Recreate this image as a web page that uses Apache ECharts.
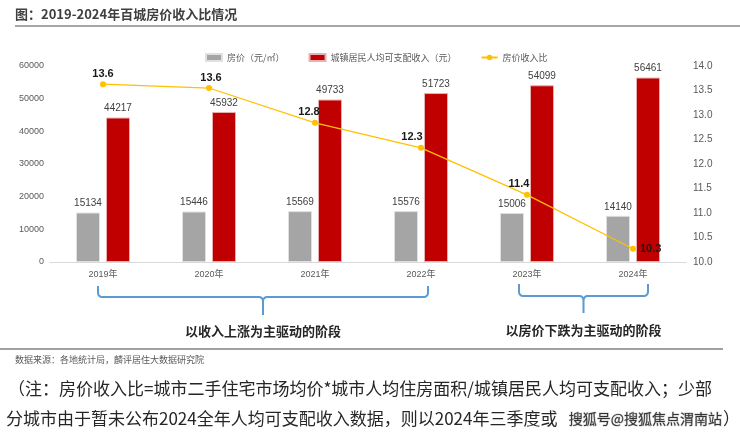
<!DOCTYPE html>
<html>
<head>
<meta charset="utf-8">
<style>
  html, body { margin: 0; padding: 0; background: #fff; }
  #main { width: 740px; height: 438px; }
</style>
<script src="https://cdn.jsdelivr.net/npm/echarts@6/dist/echarts.min.js"></script>
</head>
<body>
<div id="main"></div>
<script>
// data
var years = ['2019年', '2020年', '2021年', '2022年', '2023年', '2024年'];
var housePrice = [15134, 15446, 15569, 15576, 15006, 14140];
var income = [44217, 45932, 49733, 51723, 54099, 56461];
var ratio = [13.63, 13.55, 12.84, 12.33, 11.37, 10.27];
var leftTicks = [0, 60000, 10000];   // min, max, interval
var rightTicks = [10, 14, 0.5];

// label placement for the ratio line, one per point
var ratioLabelPos = ['top', 'top', 'top', 'top', 'top', 'right'];
var ratioLabelOffset = [[0, 0], [2, 0], [-6, 0], [-9, 0], [-8, 0], [2, 0]];

var cjk = '"Noto Sans CJK SC", sans-serif';
var latin = '"Liberation Sans", Arial, "Noto Sans CJK SC", sans-serif';

var myChart = echarts.init(document.getElementById('main'));

var option = {
    backgroundColor: '#fff',
    animation: false,
    textStyle: {fontFamily: latin},
    legend: {
        top: 48,
        left: 200,
        itemWidth: 16,
        itemHeight: 7,
        itemGap: 24,
        textStyle: {fontSize: 9, color: '#595959', fontFamily: cjk},
        data: [
            {name: '房价（元/㎡）', icon: 'rect'},
            {name: '城镇居民人均可支配收入（元）', icon: 'rect'},
            {name: '房价收入比'}
        ]
    },
    grid: {left: 50, right: 54, top: 66, bottom: 176},
    xAxis: {
        type: 'category',
        data: years,
        axisLine: {lineStyle: {color: '#D9D9D9', width: 1}},
        axisTick: {show: false},
        axisLabel: {fontSize: 9, color: '#595959', margin: 8, fontFamily: latin}
    },
    yAxis: [
        {
            type: 'value',
            min: leftTicks[0], max: leftTicks[1], interval: leftTicks[2],
            splitLine: {show: false},
            axisLine: {show: false},
            axisTick: {show: false},
            axisLabel: {fontSize: 9, color: '#595959', margin: 6,
                formatter: function (v) { return String(v); }}
        },
        {
            type: 'value',
            min: rightTicks[0], max: rightTicks[1], interval: rightTicks[2],
            splitLine: {show: false},
            axisLine: {show: false},
            axisTick: {show: false},
            axisLabel: {
                fontSize: 10, color: '#595959', margin: 7,
                formatter: function (v) { return v.toFixed(1); }
            }
        }
    ],
    series: [
        {
            name: '房价（元/㎡）',
            type: 'bar',
            barWidth: 24,
            barGap: '25%',
            data: housePrice,
            itemStyle: {color: '#A5A5A5', borderColor: '#E0E0E0', borderWidth: 1},
            label: {show: true, position: 'top', distance: 4, fontSize: 10, color: '#404040'}
        },
        {
            name: '城镇居民人均可支配收入（元）',
            type: 'bar',
            barWidth: 24,
            data: income,
            itemStyle: {color: '#C00000', borderColor: '#E8B0B0', borderWidth: 1},
            label: {show: true, position: 'top', distance: 4, fontSize: 10, color: '#404040'}
        },
        {
            name: '房价收入比',
            type: 'line',
            yAxisIndex: 1,
            symbol: 'circle',
            symbolSize: 6,
            z: 5,
            lineStyle: {color: '#FFC000', width: 1.2},
            itemStyle: {color: '#FFC000'},
            data: ratio.map(function (v, i) {
                return {
                    value: v,
                    label: {position: ratioLabelPos[i], offset: ratioLabelOffset[i]}
                };
            }),
            label: {
                show: true, fontSize: 11, fontWeight: 'bold', color: '#1a1a1a', distance: 2,
                formatter: function (p) { return p.value.toFixed(1); }
            }
        }
    ]
};

myChart.setOption(option);

// brackets below the axis, placed from the category positions
function catX(i) {
    return myChart.convertToPixel({xAxisIndex: 0}, years[i]);
}

// quarter arc points from angle a0 to a1 around (cx, cy)
function arc(cx, cy, r, a0, a1) {
    var pts = [];
    for (var k = 0; k <= 4; k++) {
        var a = a0 + (a1 - a0) * k / 4;
        pts.push([cx + r * Math.cos(a), cy + r * Math.sin(a)]);
    }
    return pts;
}

function bracketParts(x1, x2, yTop, yMid, yBot) {
    var r = 4;
    var cx = (x1 + x2) / 2;
    var P = Math.PI;
    var left = [[x1, yTop]]
        .concat(arc(x1 + r, yMid - r, r, P, P / 2))
        .concat(arc(cx - r, yMid + r, r, -P / 2, 0))
        .concat([[cx, yBot]]);
    var right = [[x2, yTop]]
        .concat(arc(x2 - r, yMid - r, r, 0, P / 2))
        .concat(arc(cx + r, yMid + r, r, -P / 2, -P));
    return [left, right];
}

var b1 = [catX(0) - 5, catX(3) + 7];
var b2 = [catX(4) - 8, catX(5) + 15];
var p1 = bracketParts(b1[0], b1[1], 286, 297, 315);
var p2 = bracketParts(b2[0], b2[1], 284, 296, 313);

var bracketStyle = {stroke: '#5B9BD5', lineWidth: 2, fill: null};
var noteStyle = {fontSize: 17, fill: '#262626', fontFamily: cjk};

myChart.setOption({
    graphic: [
        {
            type: 'text', x: 15, y: 14,
            style: {text: '图：2019-2024年百城房价收入比情况', fontSize: 13, fontWeight: 'bold', fill: '#404040',
                fontFamily: cjk, verticalAlign: 'middle'}
        },
        {
            type: 'line', shape: {x1: 15, y1: 26, x2: 740, y2: 26},
            style: {stroke: '#A6A6A6', lineWidth: 2}
        },
        {type: 'polyline', shape: {points: p1[0]}, style: bracketStyle},
        {type: 'polyline', shape: {points: p1[1]}, style: bracketStyle},
        {type: 'polyline', shape: {points: p2[0]}, style: bracketStyle},
        {type: 'polyline', shape: {points: p2[1]}, style: bracketStyle},
        {
            type: 'text', x: (b1[0] + b1[1]) / 2, y: 331,
            style: {text: '以收入上涨为主驱动的阶段', fontSize: 13, fontWeight: 'bold', fill: '#262626',
                fontFamily: cjk, align: 'center', verticalAlign: 'middle'}
        },
        {
            type: 'text', x: (b2[0] + b2[1]) / 2, y: 330,
            style: {text: '以房价下跌为主驱动的阶段', fontSize: 13, fontWeight: 'bold', fill: '#262626',
                fontFamily: cjk, align: 'center', verticalAlign: 'middle'}
        },
        {
            type: 'line', shape: {x1: 0, y1: 349, x2: 723, y2: 349},
            style: {stroke: '#808080', lineWidth: 1.5}
        },
        {
            type: 'text', x: 15, y: 360,
            style: {text: '数据来源：各地统计局，麟评居住大数据研究院', fontSize: 9, fill: '#595959',
                fontFamily: cjk, verticalAlign: 'middle'}
        },
        {
            type: 'text', x: 8, y: 389,
            style: Object.assign({
                text: '（注：房价收入比=城市二手住宅市场均价*城市人均住房面积/城镇居民人均可支配收入；少部',
                verticalAlign: 'middle'
            }, noteStyle)
        },
        {
            type: 'text', x: 6, y: 419,
            style: Object.assign({
                text: '分城市由于暂未公布2024全年人均可支配收入数据，则以2024年三季度或',
                verticalAlign: 'middle'
            }, noteStyle)
        },
        {
            type: 'text', x: 722, y: 419,
            style: {text: '搜狐号@搜狐焦点渭南站', fontSize: 14, fill: '#333', fontFamily: cjk,
                stroke: '#c8c8c8', lineWidth: 1, align: 'right', verticalAlign: 'middle'}
        },
        {
            type: 'text', x: 723, y: 419,
            style: {text: '）', fontSize: 17, fill: '#262626', fontFamily: cjk, verticalAlign: 'middle'}
        }
    ]
});
</script>
</body>
</html>
